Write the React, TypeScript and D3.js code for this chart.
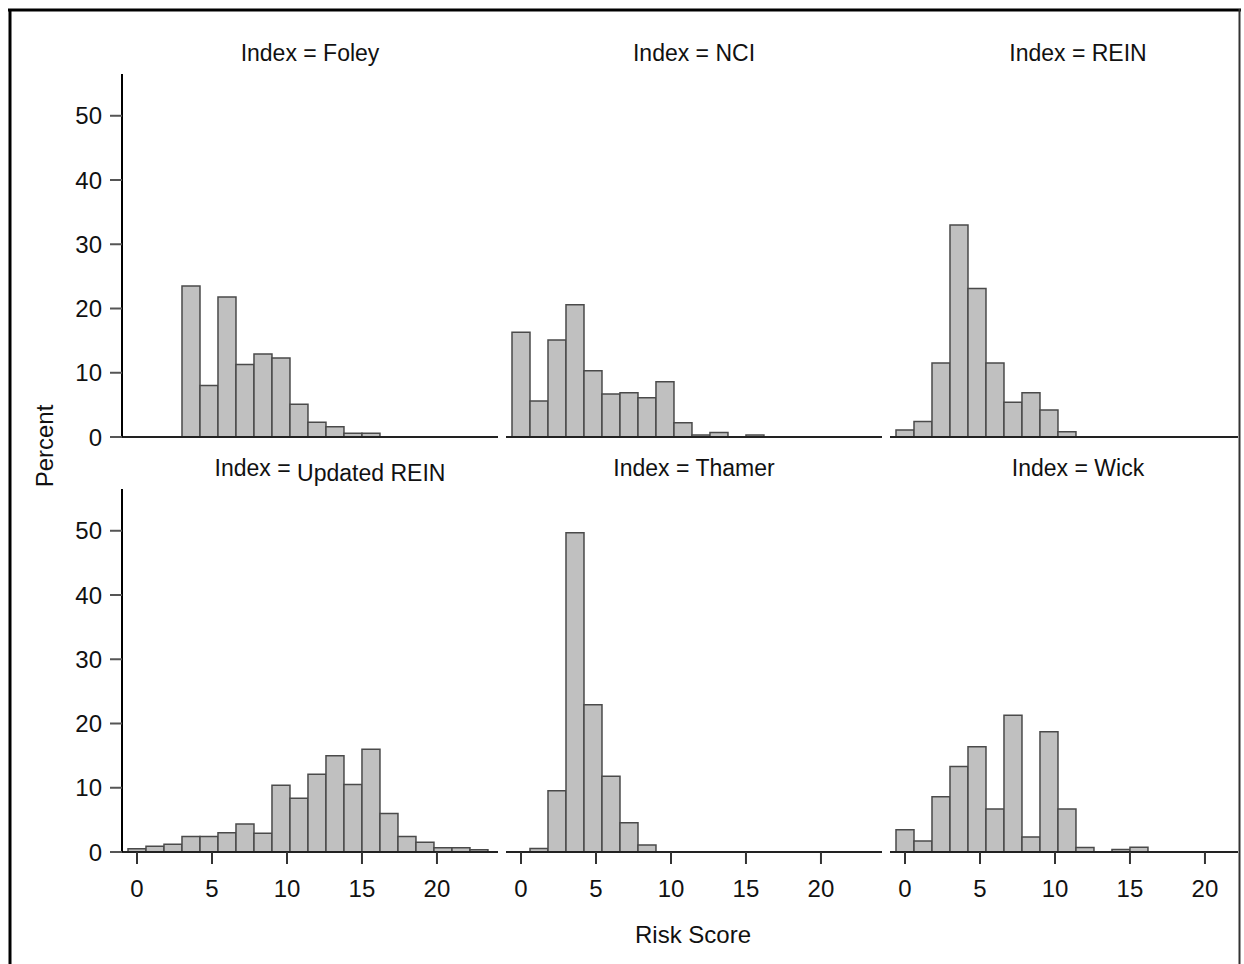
import React from "react";
import { scaleLinear, range } from "d3";

// histogram bins: width 1.2, first bin centred on 0
const binStart = -0.6;
const binWidth = 1.2;

const panelNames = ["Foley", "NCI", "REIN", "Updated REIN", "Thamer", "Wick"];

const foley = [0, 0, 0, 23.5, 8.0, 21.8, 11.3, 12.9, 12.3, 5.1, 2.3, 1.6, 0.6, 0.6, 0, 0, 0, 0, 0, 0];
const nci = [16.3, 5.6, 15.1, 20.6, 10.3, 6.7, 6.9, 6.1, 8.6, 2.2, 0.3, 0.7, 0, 0.3, 0, 0, 0, 0, 0, 0];
const rein = [1.1, 2.4, 11.5, 33.0, 23.1, 11.5, 5.4, 6.9, 4.2, 0.8, 0, 0, 0, 0, 0, 0, 0, 0, 0, 0];
const updatedRein = [0.5, 0.9, 1.2, 2.4, 2.4, 3.0, 4.35, 2.9, 10.4, 8.35, 12.1, 15.0, 10.5, 16.0, 6.0, 2.4, 1.5, 0.65, 0.65, 0.35];
const thamer = [0, 0.55, 9.55, 49.7, 22.9, 11.8, 4.55, 1.1, 0, 0, 0, 0, 0, 0, 0, 0, 0, 0, 0, 0];
const wick = [3.45, 1.7, 8.6, 13.3, 16.4, 6.7, 21.3, 2.35, 18.7, 6.7, 0.7, 0, 0.4, 0.75, 0, 0, 0, 0, 0, 0];

const panelData = [foley, nci, rein, updatedRein, thamer, wick];

const xTicks = [0, 5, 10, 15, 20];
const yTicks = [0, 10, 20, 30, 40, 50];

const W = 1244;
const H = 964;
const font = "'Liberation Sans', Arial, sans-serif";
const textColor = "#111";

// layout
const cellLeft = [122, 506, 890];
const cellWidth = 376;
const rowBase = [437, 852];
const rowTop = [74, 489];
const titleY = [61, 476];

export default function App() {
  return (
    <svg
      width={W}
      height={H}
      style={{ position: "absolute", left: 0, top: 0, background: "#fff" }}
      fontFamily={font}
    >
      <defs>
        <clipPath id="frameClip">
          <rect x={11} y={11} width={1227} height={H} />
        </clipPath>
      </defs>
      <g clipPath="url(#frameClip)">
        {panelData.map((vals, p) => {
          const row = Math.floor(p / 3);
          const col = p % 3;
          const x = scaleLinear()
            .domain([-1, 24.07])
            .range([cellLeft[col], cellLeft[col] + cellWidth]);
          const y = scaleLinear().domain([0, 56.5]).range([rowBase[row], rowTop[row]]);
          const cx = cellLeft[col] + cellWidth / 2;
          return (
            <g key={p}>
              {/* panel title */}
              {panelNames[p] === "Updated REIN" ? (
                <text x={cx + 20} y={titleY[row]} textAnchor="middle" fontSize={23} fill={textColor}>
                  Index =<tspan dy={5}> Updated REIN</tspan>
                </text>
              ) : (
                <text x={cx} y={titleY[row]} textAnchor="middle" fontSize={23} fill={textColor}>
                  {`Index = ${panelNames[p]}`}
                </text>
              )}
              {/* bars */}
              {vals.map((v, i) => {
                const x0 = x(binStart + i * binWidth);
                const x1 = x(binStart + (i + 1) * binWidth);
                const y0 = y(0);
                const y1 = y(v);
                return (
                  <path
                    key={i}
                    d={`M${x0},${y0}V${y1}H${x1}V${y0}Z`}
                    fill="#c0c0c0"
                    stroke="#4a4a4a"
                    strokeWidth={1.5}
                  />
                );
              })}
              {/* x axis line */}
              <line
                x1={cellLeft[col]}
                x2={cellLeft[col] + cellWidth}
                y1={y(0)}
                y2={y(0)}
                stroke="#222"
                strokeWidth={2}
              />
              {/* x ticks on bottom row */}
              {row === 1 &&
                xTicks.map((t) => (
                  <g key={t}>
                    <line x1={x(t)} x2={x(t)} y1={y(0)} y2={y(0) + 12} stroke="#333" strokeWidth={2} />
                    <text x={x(t)} y={y(0) + 45} textAnchor="middle" fontSize={24} fill={textColor}>
                      {t}
                    </text>
                  </g>
                ))}
              {/* y axis on first column */}
              {col === 0 && (
                <g>
                  <line x1={122} x2={122} y1={rowTop[row]} y2={y(0)} stroke="#000" strokeWidth={2} />
                  {yTicks.map((t) => (
                    <g key={t}>
                      <line x1={110} x2={122} y1={y(t)} y2={y(t)} stroke="#555" strokeWidth={2} />
                      <text x={102} y={y(t) + 8.5} textAnchor="end" fontSize={24} fill={textColor}>
                        {t}
                      </text>
                    </g>
                  ))}
                </g>
              )}
            </g>
          );
        })}
        {/* axis titles */}
        <text
          transform="translate(53,446) rotate(-90)"
          textAnchor="middle"
          fontSize={24}
          fill={textColor}
        >
          Percent
        </text>
        <text x={693} y={943} textAnchor="middle" fontSize={24} fill={textColor}>
          Risk Score
        </text>
      </g>
      {/* outer frame */}
      <line x1={8} x2={1241} y1={10} y2={10} stroke="#000" strokeWidth={3} />
      <line x1={10} x2={10} y1={9} y2={H} stroke="#000" strokeWidth={3} />
      <line x1={1239.5} x2={1239.5} y1={9} y2={H} stroke="#333" strokeWidth={2} />
    </svg>
  );
}
